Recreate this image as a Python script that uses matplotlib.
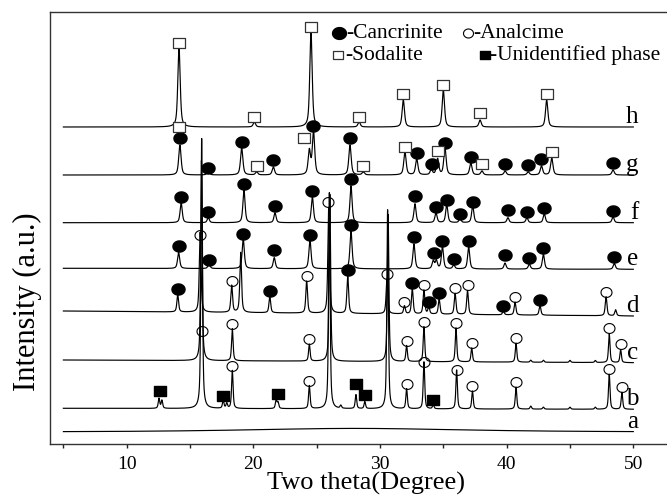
import numpy as np
import matplotlib
matplotlib.use('Agg')
import matplotlib.pyplot as plt
from matplotlib.path import Path

plt.rcParams['font.family'] = ['Liberation Serif', 'DejaVu Serif']

# ------------------------------------------------------------------ data
# vertical unit: arbitrary intensity (stacked patterns)
trace_names = ['a', 'b', 'c', 'd', 'e', 'f', 'g', 'h']
offset_start = [12.0, 35.7, 84.0, 133.0, 175.7, 221.3, 269.0, 317.0]
offset_end = [12.0, 34.7, 81.3, 128.0, 174.7, 221.3, 269.0, 317.0]
peak_fwhm = [20.0, 0.14, 0.14, 0.16, 0.20, 0.20, 0.22, 0.22]

a_pos = [28.0]
a_int = [3.6]

b_pos = [12.55, 12.78, 15.92, 17.62, 17.90, 18.34, 21.80, 21.95, 24.42, 26.00,
         26.90, 28.10, 28.80, 30.60, 32.10, 33.47, 34.20, 36.05, 37.30, 40.74,
         41.90, 42.90, 45.00, 47.00, 48.10, 49.10]
b_int = [10, 8, 270, 8, 5, 38, 9, 6, 23, 216,
         3, 14, 7, 199, 20, 47, 4, 39, 18, 22,
         3, 2, 2, 2, 35, 17]

c_pos = [15.90, 18.34, 24.42, 26.04, 30.64, 32.10, 33.47, 36.00, 37.24, 40.74,
         41.90, 42.90, 45.00, 47.00, 48.10, 49.00]
c_int = [200, 32, 17, 167, 147, 16, 35, 34, 14, 19,
         2, 2, 2, 2, 29, 13]

d_pos = [14.03, 15.80, 18.29, 19.00, 21.30, 24.21, 25.95, 27.45, 30.55, 31.93,
         32.55, 33.47, 33.85, 34.67, 35.93, 36.91, 39.74, 40.66, 42.63, 47.85,
         48.60]
d_int = [17, 80, 27, 60, 16, 32, 106, 38, 35, 8,
         25, 24, 7, 15, 21, 24, 4, 13, 10, 19,
         6]

e_pos = [14.10, 16.50, 19.20, 21.65, 24.47, 27.71, 32.68, 34.20, 34.45, 34.93,
         35.82, 37.00, 39.87, 41.79, 42.90, 48.50]
e_int = [16, 5, 30, 11, 29, 38, 25, 8, 8, 22,
         4, 22, 6, 5, 15, 6]

f_pos = [14.30, 16.44, 19.26, 21.71, 24.66, 27.71, 32.76, 34.42, 35.27, 36.32,
         37.32, 40.10, 41.60, 42.97, 48.40]
f_int = [20, 5, 33, 10, 26, 37, 19, 10, 18, 4,
         17, 5, 5, 9, 6]

g_pos = [14.20, 16.44, 19.08, 20.26, 21.58, 24.42, 24.75, 27.63, 28.68, 31.97,
         32.90, 34.05, 34.55, 35.13, 37.17, 38.05, 39.88, 41.70, 42.75, 43.56,
         48.40]
g_int = [30, 4, 27, 3, 8, 24, 43, 30, 3, 23,
         16, 5, 16, 27, 12, 4, 4, 3, 9, 17,
         5]

h_pos = [14.13, 20.08, 24.55, 28.35, 31.84, 35.00, 37.90, 43.16]
h_int = [80, 5, 96, 5, 27, 37, 7, 27]

# phase markers (2-theta, intensity position)
cancrinite_x = [14.21, 16.44, 19.08, 21.58, 24.73, 27.63, 32.90, 34.08, 35.13, 37.18, 39.90, 41.70, 42.75, 48.40,
                14.30, 16.44, 19.26, 21.71, 24.66, 27.71, 32.76, 34.42, 35.27, 36.32, 37.32, 40.10, 41.60, 42.97, 48.40,
                14.10, 16.50, 19.21, 21.65, 24.47, 27.71, 32.68, 34.30, 34.93, 35.82, 37.00, 39.87, 41.79, 42.90, 48.50,
                14.03, 21.30, 27.45, 32.55, 33.85, 34.67, 39.74, 42.63]
cancrinite_y = [306.3, 276.3, 301.7, 284.0, 318.0, 305.7, 290.7, 280.0, 301.3, 286.7, 280.0, 279.0, 284.7, 280.7,
                247.3, 231.7, 260.0, 238.0, 253.0, 264.7, 248.0, 236.7, 244.0, 230.0, 242.3, 234.0, 232.3, 235.7, 233.3,
                198.0, 184.0, 210.0, 194.0, 209.0, 219.0, 207.0, 191.0, 202.5, 184.7, 203.2, 189.0, 185.7, 195.7, 186.7,
                154.7, 153.0, 174.0, 160.7, 142.3, 150.7, 138.3, 144.0]

analcime_x = [15.79, 18.29, 24.21, 25.92, 30.55, 31.93, 33.47, 35.93, 36.91, 40.66, 47.85,
              15.92, 18.34, 24.42, 32.10, 33.47, 36.00, 37.24, 40.74, 48.10, 49.00,
              18.34, 24.42, 32.10, 33.47, 36.05, 37.30, 40.74, 48.10, 49.10]
analcime_y = [209.0, 163.3, 168.3, 241.7, 169.7, 142.3, 159.0, 155.7, 159.0, 147.3, 152.3,
              113.3, 120.0, 105.0, 103.3, 122.3, 121.3, 101.3, 105.7, 115.7, 100.0,
              78.3, 63.3, 60.0, 81.7, 74.0, 58.3, 62.3, 74.7, 57.3]

sodalite_x = [14.13, 20.08, 24.53, 28.37, 31.84, 35.00, 37.90, 43.16,
              14.13, 20.26, 23.98, 28.68, 31.95, 34.55, 38.05, 43.56]
sodalite_y = [401.3, 327.3, 417.3, 327.3, 349.7, 359.0, 330.7, 349.7,
              316.7, 278.3, 305.5, 278.3, 297.3, 292.5, 279.8, 292.3]

unidentified_x = [12.63, 17.58, 21.92, 28.10, 28.82, 34.20]
unidentified_y = [53.0, 48.0, 49.7, 60.0, 49.0, 44.0]

legend_labels = ['-Cancrinite', '-Analcime', '-Sodalite', '-Unidentified phase']
x_ticks = [10, 20, 30, 40, 50]
x_minor = [5, 15, 25, 35, 45]

# ------------------------------------------------------------------ helpers
def marker_path(aspect, shape):
    if shape == 'ellipse':
        t = np.linspace(0, 2 * np.pi, 60)
        verts = np.column_stack([np.cos(t), aspect * np.sin(t)])
        verts[-1] = verts[0]
        codes = [Path.MOVETO] + [Path.LINETO] * (len(verts) - 2) + [Path.CLOSEPOLY]
        return Path(verts, codes)
    verts = [(-1, -aspect), (1, -aspect), (1, aspect), (-1, aspect), (-1, -aspect)]
    codes = [Path.MOVETO, Path.LINETO, Path.LINETO, Path.LINETO, Path.CLOSEPOLY]
    return Path(verts, codes)


def pattern(x, pos, ints, fwhm, eta=0.6):
    y = np.zeros_like(x)
    for p, h in zip(pos, ints):
        d = (x - p) / (fwhm / 2.0)
        y += h * (eta / (1 + d ** 2) + (1 - eta) * np.exp(-np.log(2) * d ** 2))
    return y


M_CAN = marker_path(0.85, 'ellipse')
M_ANA = marker_path(0.9, 'ellipse')
M_SOD = marker_path(0.8, 'rect')
M_UNI = marker_path(0.73, 'rect')

# ------------------------------------------------------------------ figure
fig = plt.figure(figsize=(6.67, 4.96), dpi=100)
ax = fig.add_axes([0.07496, 0.10484, 0.9505, 0.87097])
ax.set_xlim(3.944, 54.0)
ax.set_ylim(0, 432)

x = np.arange(5.0, 50.0 + 1e-9, 0.01)
all_pos = [a_pos, b_pos, c_pos, d_pos, e_pos, f_pos, g_pos, h_pos]
all_int = [a_int, b_int, c_int, d_int, e_int, f_int, g_int, h_int]
for name, s0, s1, w, pos, ints in zip(trace_names, offset_start, offset_end,
                                      peak_fwhm, all_pos, all_int):
    base = s0 + (s1 - s0) * (x - x[0]) / (x[-1] - x[0])
    ax.plot(x, base + pattern(x, pos, ints, w), color='black', lw=0.85,
            solid_joinstyle='round', zorder=2)
    ax.text(50.4, s1 + 4, name, ha='right', va='baseline', fontsize=18, zorder=4)

ax.plot(cancrinite_x, cancrinite_y, ls='none', marker=M_CAN, ms=9.4,
        color='black', zorder=3)
ax.plot(analcime_x, analcime_y, ls='none', marker=M_ANA, ms=7.9,
        mfc='none', mec='black', mew=0.8, zorder=3)
ax.plot(sodalite_x, sodalite_y, ls='none', marker=M_SOD, ms=8.6,
        mfc='white', mec='#333333', mew=0.9, zorder=3)
ax.plot(unidentified_x, unidentified_y, ls='none', marker=M_UNI, ms=8.9,
        color='black', zorder=3)

# legend (drawn manually, two rows)
tr = ax.transAxes
ax.plot([0.4563], [0.9507], transform=tr, marker=M_CAN, ms=10.0, color='black', clip_on=False)
ax.text(0.4680, 0.9387, legend_labels[0], transform=tr, fontsize=15.5, va='baseline')
ax.plot([0.6598], [0.9507], transform=tr, marker=M_ANA, ms=7.2, mfc='none', mec='black',
        mew=0.8, clip_on=False)
ax.text(0.6677, 0.9387, legend_labels[1], transform=tr, fontsize=15.5, va='baseline')
ax.plot([0.4538], [0.9005], transform=tr, marker=M_SOD, ms=6.9, mfc='white', mec='#333333',
        mew=0.9, clip_on=False)
ax.text(0.4653, 0.8889, legend_labels[2], transform=tr, fontsize=15.5, va='baseline')
ax.plot([0.6861], [0.9005], transform=tr, marker=M_UNI, ms=7.2, color='black', clip_on=False)
ax.text(0.6940, 0.8889, legend_labels[3], transform=tr, fontsize=15.5, va='baseline')

# axes styling
ax.set_xticks(x_ticks)
ax.set_xticks(x_minor, minor=True)
ax.set_yticks([])
ax.tick_params(axis='x', which='both', direction='out', length=2.9, width=1.0,
               color='#222222')
ax.tick_params(axis='x', which='major', labelsize=14, pad=5.5)
for side in ['left', 'top', 'bottom']:
    ax.spines[side].set_linewidth(1.0)
    ax.spines[side].set_color('#333333')
ax.spines['right'].set_visible(False)

ax.set_xlabel('Two theta(Degree)', fontsize=19)
ax.xaxis.set_label_coords(0.4992, -0.0648)
ax.set_ylabel('Intensity (a.u.)', fontsize=22, va='center')
ax.yaxis.set_label_coords(-0.0363, 0.3287)

fig.savefig('out.png', dpi=100)
